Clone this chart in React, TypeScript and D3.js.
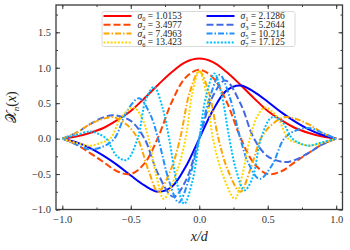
import * as d3 from "d3";
import { useEffect, useRef } from "react";

// sigma values shown in the legend
const sigmaIdx = ["0", "1", "2", "3", "4", "5", "6", "7"];
const sigmaVal = ["1.0153", "2.1286", "3.4977", "5.2644", "7.4963", "10.214", "13.423", "17.125"];
const colors = ["#ff0000", "#0000ff", "#ff4500", "#4169e1", "#ffa500", "#1e90ff", "#ffd700", "#00bfff"];
const dashes = ["", "", "7,3", "7,3", "6,2,1.5,2", "6,2,1.5,2", "2,1.6", "2,1.6"];

// curves (x, y pairs)
const x0 = [-1, -0.9, -0.8, -0.7, -0.6, -0.5, -0.4, -0.3, -0.2, -0.1, 0, 0.1, 0.2, 0.3, 0.4, 0.5, 0.6, 0.7, 0.8, 0.9, 1];
const y0 = [0, 0.03, 0.08, 0.15, 0.26, 0.39, 0.57, 0.76, 0.94, 1.08, 1.13, 1.08, 0.94, 0.76, 0.57, 0.39, 0.26, 0.15, 0.08, 0.03, 0];
const x1 = [-1, -0.9, -0.8, -0.7, -0.6, -0.5, -0.4, -0.3, -0.2, -0.1, 0, 0.1, 0.2, 0.3, 0.4, 0.5, 0.6, 0.7, 0.8, 0.9, 1];
const y1 = [0, -0.05, -0.13, -0.24, -0.37, -0.52, -0.66, -0.75, -0.68, -0.4, 0, 0.4, 0.68, 0.75, 0.66, 0.52, 0.37, 0.24, 0.13, 0.05, 0];
const x2 = [-1, -0.9, -0.8, -0.7, -0.6, -0.5, -0.4, -0.3, -0.2, -0.1, 0, 0.1, 0.2, 0.3, 0.4, 0.5, 0.6, 0.7, 0.8, 0.9, 1];
const y2 = [0, -0.08, -0.2, -0.33, -0.46, -0.5, -0.35, 0.02, 0.52, 0.86, 0.97, 0.86, 0.52, 0.02, -0.35, -0.5, -0.46, -0.33, -0.2, -0.08, 0];
const x3 = [-1, -0.9, -0.8, -0.7, -0.62, -0.5, -0.4, -0.3, -0.19, -0.1, 0, 0.1, 0.19, 0.3, 0.4, 0.5, 0.62, 0.7, 0.8, 0.9, 1];
const y3 = [0, 0.08, 0.2, 0.3, 0.33, 0.25, 0.0, -0.5, -0.82, -0.6, 0, 0.6, 0.82, 0.5, 0.0, -0.25, -0.33, -0.3, -0.2, -0.08, 0];
const x4 = [-1, -0.9, -0.8, -0.7, -0.62, -0.52, -0.45, -0.37, -0.3, -0.21, -0.14, -0.07, 0, 0.07, 0.14, 0.21, 0.3, 0.37, 0.45, 0.52, 0.62, 0.7, 0.8, 0.9, 1];
const y4 = [0, 0.08, 0.2, 0.28, 0.3, 0.18, 0, -0.45, -0.75, -0.45, 0, 0.65, 0.95, 0.65, 0, -0.45, -0.75, -0.45, 0, 0.18, 0.3, 0.28, 0.2, 0.08, 0];
const x5 = [-1, -0.9, -0.8, -0.7, -0.62, -0.53, -0.44, -0.36, -0.3, -0.22, -0.15, -0.08, 0, 0.08, 0.15, 0.22, 0.3, 0.36, 0.44, 0.53, 0.62, 0.7, 0.8, 0.9, 1];
const y5 = [0, -0.08, -0.15, -0.11, 0, 0.38, 0.57, 0.35, 0, -0.6, -0.9, -0.6, 0, 0.6, 0.9, 0.6, 0, -0.35, -0.57, -0.38, 0, 0.11, 0.15, 0.08, 0];
const x6 = [-1, -0.9, -0.8, -0.72, -0.65, -0.57, -0.48, -0.42, -0.37, -0.31, -0.26, -0.17, -0.1, -0.05, 0, 0.05, 0.1, 0.17, 0.26, 0.31, 0.37, 0.42, 0.48, 0.57, 0.65, 0.72, 0.8, 0.9, 1];
const y6 = [0, -0.06, -0.1, -0.06, 0, 0.3, 0.44, 0.3, 0, -0.55, -0.85, -0.5, 0, 0.65, 0.95, 0.65, 0, -0.5, -0.85, -0.55, 0, 0.3, 0.44, 0.3, 0, -0.06, -0.1, -0.06, 0];
const x7 = [-1, -0.9, -0.8, -0.74, -0.68, -0.6, -0.53, -0.45, -0.39, -0.33, -0.27, -0.22, -0.16, -0.11, -0.05, 0, 0.05, 0.11, 0.16, 0.22, 0.27, 0.33, 0.39, 0.45, 0.53, 0.6, 0.68, 0.74, 0.8, 0.9, 1];
const y7 = [0, 0.05, 0.1, 0.07, 0, -0.25, -0.3, 0, 0.55, 0.73, 0.45, 0, -0.65, -0.92, -0.6, 0, 0.6, 0.92, 0.65, 0, -0.45, -0.73, -0.55, 0, 0.3, 0.25, 0, -0.07, -0.1, -0.05, 0];

const curveX = [x0, x1, x2, x3, x4, x5, x6, x7];
const curveY = [y0, y1, y2, y3, y4, y5, y6, y7];

const xTicks = [-1.0, -0.5, 0.0, 0.5, 1.0];
const yTicks = [-1.0, -0.5, 0.0, 0.5, 1.0, 1.5];

const W = 350, H = 250;
const margin = { top: 5, right: 7.5, bottom: 40.5, left: 56 };

const fmt = (v: number) => (v < 0 ? "\u2212" : "") + Math.abs(v).toFixed(1);

export default function App() {
  const ref = useRef<SVGSVGElement>(null);

  useEffect(() => {
    const svg = d3.select(ref.current);
    svg.selectAll("*").remove();
    const width = W - margin.left - margin.right;
    const height = H - margin.top - margin.bottom;

    const x = d3.scaleLinear().domain([-1.046, 1.046]).range([0, width]);
    const y = d3.scaleLinear().domain([-1.0, 1.885]).range([height, 0]);

    const g = svg.append("g").attr("transform", `translate(${margin.left},${margin.top})`);

    g.append("defs").append("clipPath").attr("id", "plotclip")
      .append("rect").attr("width", width).attr("height", height);

    // curves
    const line = d3.line<[number, number]>()
      .x((d) => x(d[0]))
      .y((d) => y(d[1]))
      .curve(d3.curveCatmullRom.alpha(0.5));

    const plot = g.append("g").attr("clip-path", "url(#plotclip)");
    curveX.forEach((xs, i) => {
      const pts = xs.map((v, k) => [v, curveY[i][k]] as [number, number]);
      plot.append("path")
        .attr("d", line(pts))
        .attr("fill", "none")
        .attr("stroke", colors[i])
        .attr("stroke-width", 2)
        .attr("stroke-dasharray", dashes[i] || null);
    });

    const axisColor = "#3a3a3a";
    const minorX = d3.range(-1, 1.01, 0.25);
    const minorY = d3.range(-1, 1.76, 0.25);

    const styleAxis = (sel: any) => {
      sel.select(".domain").remove();
      sel.selectAll("line").attr("stroke", axisColor).attr("stroke-width", 1);
      sel.selectAll("text")
        .attr("fill", "#333")
        .style("font-family", "'Liberation Serif', serif")
        .style("font-size", "10.5px");
    };

    // bottom
    g.append("g").attr("transform", `translate(0,${height})`)
      .call(d3.axisBottom(x).tickValues(minorX).tickSize(-2).tickFormat(() => ""))
      .call(styleAxis);
    g.append("g").attr("transform", `translate(0,${height})`)
      .call(d3.axisBottom(x).tickValues(xTicks).tickSize(-4).tickPadding(6).tickFormat((d) => fmt(+d)))
      .call(styleAxis);
    // top
    g.append("g")
      .call(d3.axisTop(x).tickValues(minorX).tickSize(-2).tickFormat(() => ""))
      .call(styleAxis);
    g.append("g")
      .call(d3.axisTop(x).tickValues(xTicks).tickSize(-4).tickFormat(() => ""))
      .call(styleAxis);
    // left
    g.append("g")
      .call(d3.axisLeft(y).tickValues(minorY).tickSize(-2).tickFormat(() => ""))
      .call(styleAxis);
    g.append("g")
      .call(d3.axisLeft(y).tickValues(yTicks).tickSize(-4).tickPadding(5).tickFormat((d) => fmt(+d)))
      .call(styleAxis);
    // right
    g.append("g").attr("transform", `translate(${width},0)`)
      .call(d3.axisRight(y).tickValues(minorY).tickSize(-2).tickFormat(() => ""))
      .call(styleAxis);
    g.append("g").attr("transform", `translate(${width},0)`)
      .call(d3.axisRight(y).tickValues(yTicks).tickSize(-4).tickFormat(() => ""))
      .call(styleAxis);

    // frame
    g.append("rect")
      .attr("width", width).attr("height", height)
      .attr("fill", "none").attr("stroke", axisColor).attr("stroke-width", 1.3);

    // legend
    const lg = g.append("g").attr("transform", `translate(${102 - margin.left},${11.5 - margin.top})`);
    lg.append("rect")
      .attr("width", 193).attr("height", 35).attr("rx", 2)
      .attr("fill", "white").attr("fill-opacity", 0.85)
      .attr("stroke", "#d0d0d0").attr("stroke-width", 0.8);
    sigmaIdx.forEach((s, i) => {
      const col = i % 2, row = Math.floor(i / 2);
      const lx = 1.5 + col * 103, ly = 4.5 + row * 8.8;
      lg.append("line")
        .attr("x1", lx).attr("x2", lx + 28).attr("y1", ly).attr("y2", ly)
        .attr("stroke", colors[i]).attr("stroke-width", 2)
        .attr("stroke-dasharray", dashes[i] || null);
      const t = lg.append("text")
        .attr("x", lx + 34).attr("y", ly + 3)
        .attr("fill", "#222")
        .style("font-family", "'Liberation Serif', serif")
        .style("font-size", "9.5px");
      t.append("tspan").style("font-style", "italic").text("\u03c3");
      t.append("tspan").attr("dy", 2).style("font-size", "6.5px").text(s);
      t.append("tspan").attr("dy", -2).text(` = ${sigmaVal[i]}`);
    });

    // axis labels
    svg.append("text")
      .attr("x", margin.left + width / 2).attr("y", 241)
      .attr("text-anchor", "middle")
      .attr("fill", "#222")
      .style("font-family", "'Liberation Serif', serif")
      .style("font-style", "italic")
      .style("font-size", "14px")
      .text("x/d");

    const yl = svg.append("text")
      .attr("transform", `translate(16,${margin.top + height / 2}) rotate(-90)`)
      .attr("text-anchor", "middle")
      .attr("fill", "#222")
      .style("font-family", "'Liberation Serif', serif")
      .style("font-size", "14px");
    yl.append("tspan").text("\ud835\udcb3");
    yl.append("tspan").attr("dy", 3).style("font-size", "9px").style("font-style", "italic").text("n");
    yl.append("tspan").attr("dy", -3).text("(");
    yl.append("tspan").style("font-style", "italic").text("x");
    yl.append("tspan").text(")");
  }, []);

  return (
    <svg ref={ref} width={W} height={H}
      style={{ position: "absolute", left: 0, top: 0, background: "white" }} />
  );
}
